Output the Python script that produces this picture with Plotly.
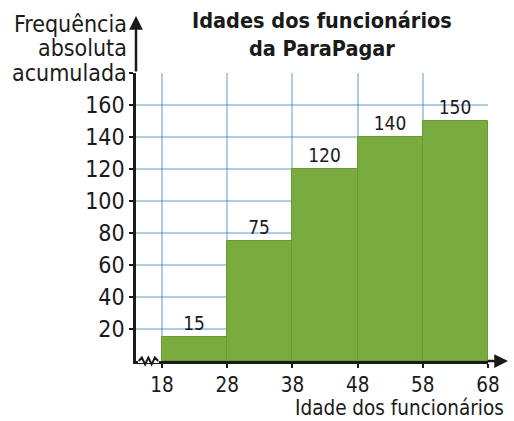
import plotly.graph_objects as go

# Dados: idades (limite inferior das classes) e frequência absoluta acumulada
classes_inicio = [18, 28, 38, 48, 58]
freq_acumulada = [15, 75, 120, 140, 150]
largura_classe = 10
x_ticks = [18, 28, 38, 48, 58, 68]
y_ticks = [20, 40, 60, 80, 100, 120, 140, 160, 180]
y_labels = ["20", "40", "60", "80", "100", "120", "140", "160", ""]

font_fam = "DejaVu Sans Condensed, Liberation Sans Narrow, Roboto, sans-serif"
x_range = [14.0, 68]
y_range = [0, 180]

centros = [c + largura_classe / 2 for c in classes_inicio]

fig = go.Figure()
fig.add_trace(go.Bar(
    x=centros,
    y=freq_acumulada,
    width=largura_classe,
    marker=dict(color="#7aab3e", line=dict(color="#6a9a35", width=1)),
    text=freq_acumulada,
    textposition="outside",
    textfont=dict(size=19, color="#1a1a1a", family=font_fam),
    cliponaxis=False,
    hoverinfo="skip",
))

grid_col = "rgba(40,120,190,0.38)"
fig.update_layout(
    width=514, height=421,
    margin=dict(l=136, r=26, t=73, b=60),
    plot_bgcolor="white", paper_bgcolor="white",
    showlegend=False, bargap=0,
    font=dict(family=font_fam, size=23, color="#1a1a1a"),
    xaxis=dict(
        range=x_range, tickvals=x_ticks, showgrid=True, gridcolor=grid_col, gridwidth=1.5,
        zeroline=False, showline=True, linecolor="#1a1a1a", linewidth=2.5,
        ticks="outside", ticklen=4, tickwidth=1.5, tickcolor="#1a1a1a",
        layer="above traces", tickfont=dict(size=20.5),
    ),
    yaxis=dict(
        range=y_range, tickvals=y_ticks, ticktext=y_labels, showgrid=True,
        gridcolor=grid_col, gridwidth=1.5,
        zeroline=False, showline=True, linecolor="#1a1a1a", linewidth=2.5,
        ticks="outside", ticklen=4, tickwidth=1.5, tickcolor="#1a1a1a",
        layer="above traces", tickfont=dict(size=23),
    ),
)

# conversão de pixels para coordenadas "paper"
def pxx(x):
    return (x - 136) / 352.0

def pxy(y):
    return (361.5 - y) / 288.5

# Setas dos eixos
fig.add_annotation(xref="paper", yref="paper", x=0, y=pxy(16), ax=0, ay=57,
                   text="", showarrow=True, arrowhead=2, arrowsize=1.1,
                   arrowwidth=2.5, arrowcolor="#1a1a1a")
fig.add_annotation(xref="paper", yref="paper", x=pxx(508), y=0, ax=-22, ay=0,
                   text="", showarrow=True, arrowhead=2, arrowsize=1.1,
                   arrowwidth=2.5, arrowcolor="#1a1a1a")

# Título
fig.add_annotation(xref="paper", yref="paper", x=pxx(322), y=pxy(34),
                   xanchor="center", yanchor="middle", align="center",
                   text="<b>Idades dos funcionários<br>da ParaPagar</b>",
                   showarrow=False, font=dict(size=21.5))

# Títulos dos eixos
for txt, cy in [("Frequência", 24), ("absoluta", 48), ("acumulada", 73)]:
    fig.add_annotation(xref="paper", yref="paper", x=pxx(129), y=pxy(cy),
                       xanchor="right", yanchor="middle", text=txt,
                       showarrow=False, font=dict(size=23))
fig.add_annotation(xref="paper", yref="paper", x=pxx(506), y=pxy(408.5), xanchor="right",
                   yanchor="middle", text="Idade dos funcionários", showarrow=False,
                   font=dict(size=20.5))

# Quebra do eixo x (zigue-zague)
span = x_range[1] - x_range[0]
def px(v):
    return (v - x_range[0]) / span
zz = [(14.4, 0), (14.9, 0.012), (15.4, -0.012), (15.9, 0.012), (16.4, -0.012), (16.9, 0.012), (17.4, 0)]
path = "M " + " L ".join(f"{px(a):.4f} {b:.4f}" for a, b in zz)
fig.add_shape(type="line", xref="paper", yref="paper", x0=px(14.3), x1=px(17.5), y0=0, y1=0,
              line=dict(color="white", width=4))
fig.add_shape(type="path", xref="paper", yref="paper", path=path,
              line=dict(color="#1a1a1a", width=2))

fig.write_html("out.html", config={"displayModeBar": False},
               post_script="document.body.style.margin='0';")
